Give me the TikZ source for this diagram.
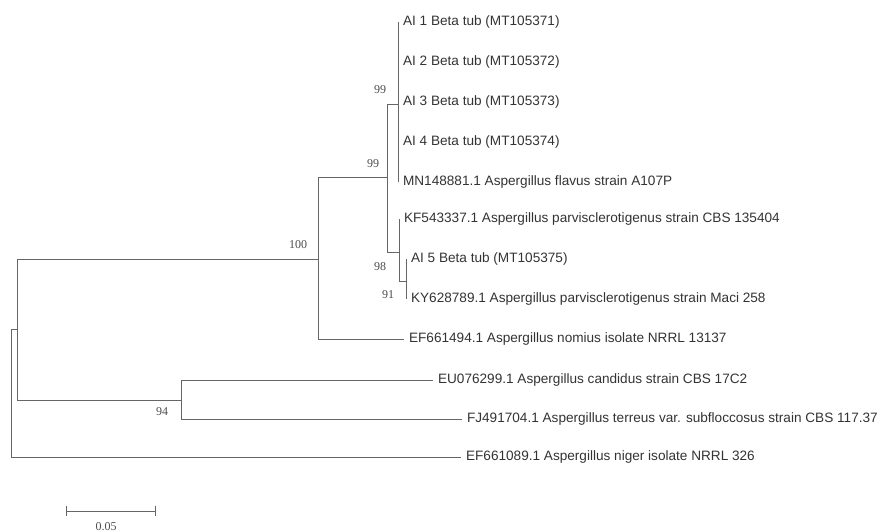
\documentclass[tikz,border=0pt]{standalone}
\usepackage{fontspec}
\setmainfont{Liberation Sans}
\newfontfamily\bootfont{Liberation Serif}
\begin{document}
\begin{tikzpicture}[x=0.75pt,y=-0.75pt,
  br/.style={draw=black!60, line width=0.7pt},
  leaf/.style={anchor=west, inner xsep=3.6pt, inner ysep=0pt, font=\fontsize{10.2}{12}\selectfont, text=black!80},
  boot/.style={font=\bootfont\fontsize{9}{10}\selectfont, text=black!70, inner sep=0pt}]
\useasboundingbox (0,0) rectangle (883,532);
% internal nodes
\coordinate (r0) at (11,392);
\coordinate (n1) at (17,329);
\coordinate (n2) at (318,259);
\coordinate (n3) at (181,400);
\coordinate (n4) at (387,177);
\coordinate (n5) at (398,104);
\coordinate (n6) at (399,252);
\coordinate (n7) at (406,281);
% leaves
\node[leaf] (ai1) at (398,22) {AI 1 Beta tub (MT105371)};
\node[leaf] (ai2) at (398,62) {AI 2 Beta tub (MT105372)};
\node[leaf] (ai3) at (398,102) {AI 3 Beta tub (MT105373)};
\node[leaf] (ai4) at (398,142) {AI 4 Beta tub (MT105374)};
\node[leaf] (mn) at (398,182) {MN148881.1 Aspergillus flavus strain A107P};
\node[leaf] (kf) at (399,219) {KF543337.1 Aspergillus parvisclerotigenus strain CBS 135404};
\node[leaf] (ai5) at (406,259) {AI 5 Beta tub (MT105375)};
\node[leaf] (ky) at (406,299) {KY628789.1 Aspergillus parvisclerotigenus strain Maci 258};
\node[leaf] (efn) at (404,339) {EF661494.1 Aspergillus nomius isolate NRRL 13137};
\node[leaf] (eu) at (433,380) {EU076299.1 Aspergillus candidus strain CBS 17C2};
\node[leaf] (fj) at (462,419) {FJ491704.1 Aspergillus terreus var. subfloccosus strain CBS 117.37};
\node[leaf] (efg) at (461,457) {EF661089.1 Aspergillus niger isolate NRRL 326};
% branches
\draw[br] (r0) |- (n1);
\draw[br] (r0) |- (efg.west);
\draw[br] (n1) |- (n2);
\draw[br] (n1) |- (n3);
\draw[br] (n3) |- (eu.west);
\draw[br] (n3) |- (fj.west);
\draw[br] (n2) |- (n4);
\draw[br] (n2) |- (efn.west);
\draw[br] (n4) |- (n5);
\draw[br] (n4) |- (n6);
\draw[br] (n5) |- (ai1.west);
\draw[br] (n5) |- (ai2.west);
\draw[br] (n5) |- (ai3.west);
\draw[br] (n5) |- (ai4.west);
\draw[br] (n5) |- (mn.west);
\draw[br] (n6) |- (kf.west);
\draw[br] (n6) |- (n7);
\draw[br] (n7) |- (ai5.west);
\draw[br] (n7) |- (ky.west);
% bootstrap values
\node[boot] (b1) at (380,90) {99};
\node[boot] (b2) at (373,164) {99};
\node[boot] (b3) at (298,245) {100};
\node[boot] (b4) at (380,267) {98};
\node[boot] (b5) at (388,295) {91};
\node[boot] (b6) at (162,412) {94};
% scale bar
\coordinate (sb1) at (66,511);
\coordinate (sb2) at (155,511);
\draw[br] (sb1) -- (sb2);
\draw[br] ([yshift=4pt]sb1) -- ([yshift=-4pt]sb1);
\draw[br] ([yshift=4pt]sb2) -- ([yshift=-4pt]sb2);
\node[boot] (sbl) at (106,527) {0.05};
\end{tikzpicture}
\end{document}
